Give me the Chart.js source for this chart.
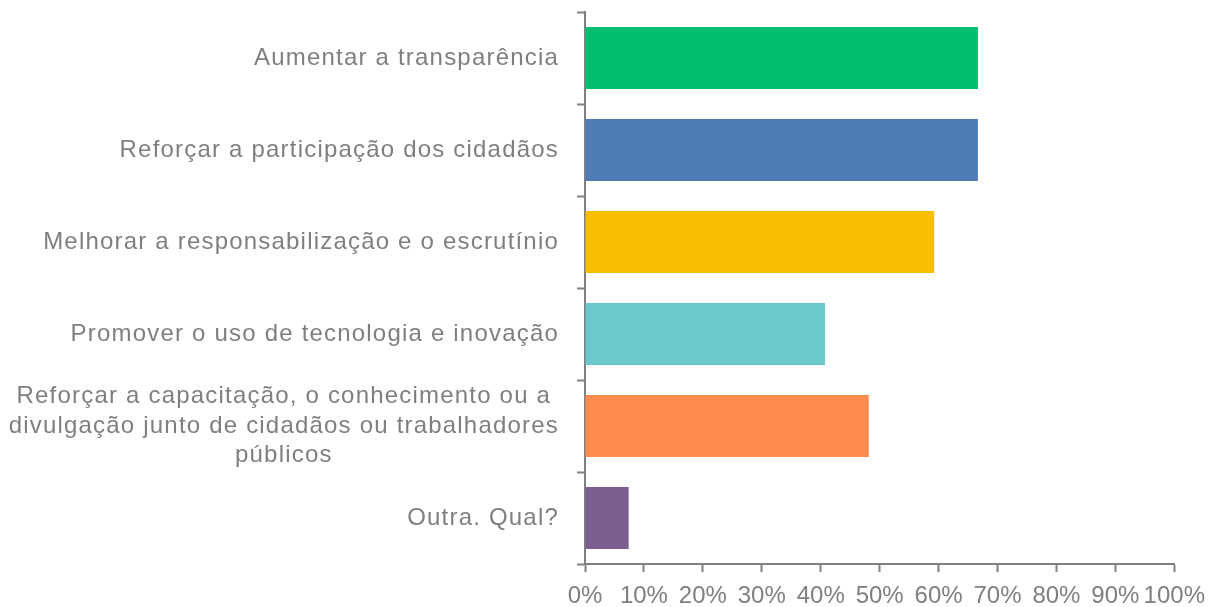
<!DOCTYPE html>
<html>
<head>
<meta charset="utf-8">
<script src="https://cdn.jsdelivr.net/npm/chart.js@4.4.1/dist/chart.umd.min.js"></script>
<style>
  html, body { margin: 0; padding: 0; background: #fff; }
  #wrap { width: 1215px; height: 607px; }
</style>
</head>
<body>
<div id="wrap"><canvas id="grafico"></canvas></div>
<script>
// dados do gráfico
const categorias = [
    'Aumentar a transparência',
    'Reforçar a participação dos cidadãos',
    'Melhorar a responsabilização e o escrutínio',
    'Promover o uso de tecnologia e inovação',
    ['Reforçar a capacitação, o conhecimento ou a', 'divulgação junto de cidadãos ou trabalhadores', 'públicos'],
    'Outra. Qual?'
];
const valores = [66.67, 66.67, 59.26, 40.74, 48.15, 7.41];
const cores = ['#00BF6F', '#507CB6', '#F9BE00', '#6BC8CD', '#FF8B4F', '#7D5E90'];
const ticksX = [0, 10, 20, 30, 40, 50, 60, 70, 80, 90, 100];

const corTexto = '#7f7f7f';
const corEixo = '#808080';
const familia = '"Liberation Sans", Arial, sans-serif';
const fonteTexto = '24px ' + familia;

// rótulos do eixo Y, centrados dentro do próprio bloco e alinhados à direita
const rotulosY = {
    id: 'rotulosY',
    afterDraw(chart) {
        const ctx = chart.ctx;
        const y = chart.scales.y;
        const direita = y.right - 26;
        const altLinha = 29.5;
        ctx.save();
        ctx.letterSpacing = '1.2px';
        ctx.font = fonteTexto;
        ctx.fillStyle = corTexto;
        ctx.textBaseline = 'middle';
        ctx.textAlign = 'center';
        categorias.forEach(function (rot, i) {
            const linhas = Array.isArray(rot) ? rot : [rot];
            const larg = Math.max.apply(null, linhas.map(function (l) { return ctx.measureText(l).width; }));
            const cx = direita - larg / 2;
            const cy = y.getPixelForTick(i);
            linhas.forEach(function (l, j) {
                ctx.fillText(l, cx, cy + (j - (linhas.length - 1) / 2) * altLinha);
            });
        });
        ctx.restore();
    }
};

new Chart(document.getElementById('grafico').getContext('2d'), {
    type: 'bar',
    data: {
        labels: categorias,
        datasets: [{
            data: valores,
            backgroundColor: cores,
            borderWidth: 0,
            barPercentage: 0.674,
            categoryPercentage: 1
        }]
    },
    options: {
        indexAxis: 'y',
        responsive: true,
        maintainAspectRatio: false,
        animation: false,
        layout: { padding: { top: 12, right: 37, bottom: 0, left: 0 } },
        plugins: {
            legend: { display: false },
            tooltip: { enabled: false }
        },
        scales: {
            y: {
                offset: true,
                grid: {
                    offset: true,
                    drawOnChartArea: false,
                    tickLength: 8,
                    tickWidth: 2,
                    color: corEixo
                },
                border: { color: corEixo, width: 2 },
                ticks: { display: false },
                afterFit: function (s) { s.width = 585; }
            },
            x: {
                min: 0,
                max: 100,
                afterBuildTicks: function (s) { s.ticks = ticksX.map(function (v) { return { value: v }; }); },
                grid: {
                    drawOnChartArea: false,
                    tickLength: 8,
                    tickWidth: 2,
                    color: corEixo
                },
                border: { color: corEixo, width: 2 },
                ticks: {
                    autoSkip: false,
                    maxRotation: 0,
                    padding: 10,
                    color: corTexto,
                    font: { family: familia, size: 24 },
                    callback: function (v) { return v + '%'; }
                },
                afterFit: function (s) { s.height = 43; }
            }
        }
    },
    plugins: [rotulosY]
});
</script>
</body>
</html>
